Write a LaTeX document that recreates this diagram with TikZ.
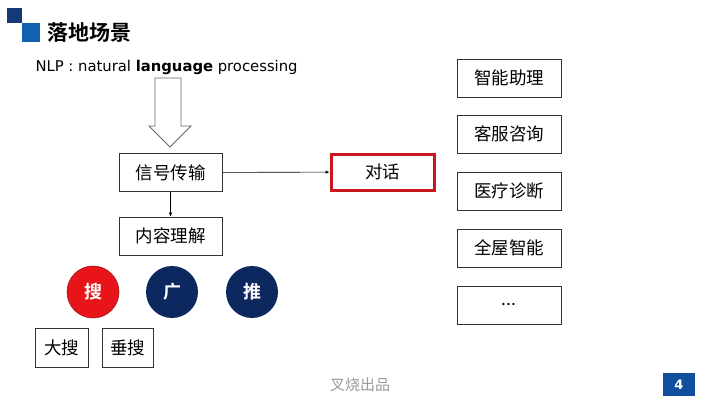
\documentclass[tikz,border=0pt]{standalone}
\usepackage{fontspec}
\setmainfont{DejaVu Sans}
\newfontfamily\cjk{Noto Sans CJK SC}[BoldFont={Noto Sans CJK SC Bold}]
\usepackage{tikz}
\usetikzlibrary{arrows.meta,positioning}
\definecolor{logodark}{RGB}{22,58,120}
\definecolor{logoblue}{RGB}{18,96,178}
\definecolor{navy}{RGB}{12,40,94}
\definecolor{searchred}{RGB}{232,20,26}
\definecolor{framered}{RGB}{200,24,30}
\definecolor{pageblue}{RGB}{16,78,158}

\begin{document}
\begin{tikzpicture}[x=1pt, y=-1pt,
    box/.style={rectangle, draw=black!80, line width=0.8pt, inner sep=0pt,
                minimum width=103pt, minimum height=38pt, align=center,
                font=\cjk\fontsize{17.5}{19}\selectfont},
    ball/.style={circle, inner sep=0pt, minimum size=52pt, text=white,
                 font=\cjk\bfseries\fontsize{18}{20}\selectfont},
    arrow/.style={-{Latex[length=4pt,width=3.5pt]}, line width=0.6pt}
]
\useasboundingbox (0,0) rectangle (720,405);

\fill[logodark] (7,8) rectangle (22,23);
\fill[logoblue] (22,23) rectangle (40,42);
\node[anchor=west, font=\cjk\bfseries\fontsize{21}{23}\selectfont] (title) at (44,33) {落地场景};

\node[anchor=west, font=\fontsize{14.8}{16}\selectfont] (nlp) at (32,67) {NLP : natural \textbf{language} processing};
\draw[draw=black!60, line width=0.8pt] (155,78) -- (181,78) -- (181,126) -- (191,126)
    -- (170,147) -- (149,126) -- (155,126) -- cycle;

\node[box] (sig)  at (170.5,172.5) {信号传输};
\node[box] (cont) at (170.5,236)   {内容理解};
\node[box, draw=framered, line width=3pt, minimum width=103pt, minimum height=36pt] (dlg) at (382.5,172) {对话};

\draw[arrow] (sig) -- (cont);
\draw[arrow] (sig) -- (dlg);

\node[ball, fill=searchred, draw=framered!80!black, line width=0.6pt] (sou)  at (93,292)  {搜};
\node[ball, fill=navy] (guang) at (172,292) {广};
\node[ball, fill=navy] (tui)   at (252,292) {推};

\node[box, minimum width=53pt, minimum height=39pt] (dasou)    at (61.5,347.5)  {大搜};
\node[box, minimum width=51pt, minimum height=39pt] (chuisou)  at (127.5,347.5) {垂搜};

\node[box, minimum width=104pt] (zhuli)  at (509,78)  {智能助理};
\node[box, minimum width=104pt] (kefu)   at (509,134) {客服咨询};
\node[box, minimum width=104pt] (yiliao) at (509,191) {医疗诊断};
\node[box, minimum width=104pt] (wuzhi)  at (509,248) {全屋智能};
\node[box, minimum width=104pt] (more)   at (509,305) {...};

\node[font=\cjk\fontsize{15}{17}\selectfont, text=black!40] (foot) at (360,385) {叉烧出品};
\node[fill=pageblue, minimum width=32pt, minimum height=23pt, inner sep=0pt,
      text=white, font=\bfseries\fontsize{13}{14}\selectfont] (page) at (679,384.5) {4};
\end{tikzpicture}
\end{document}
